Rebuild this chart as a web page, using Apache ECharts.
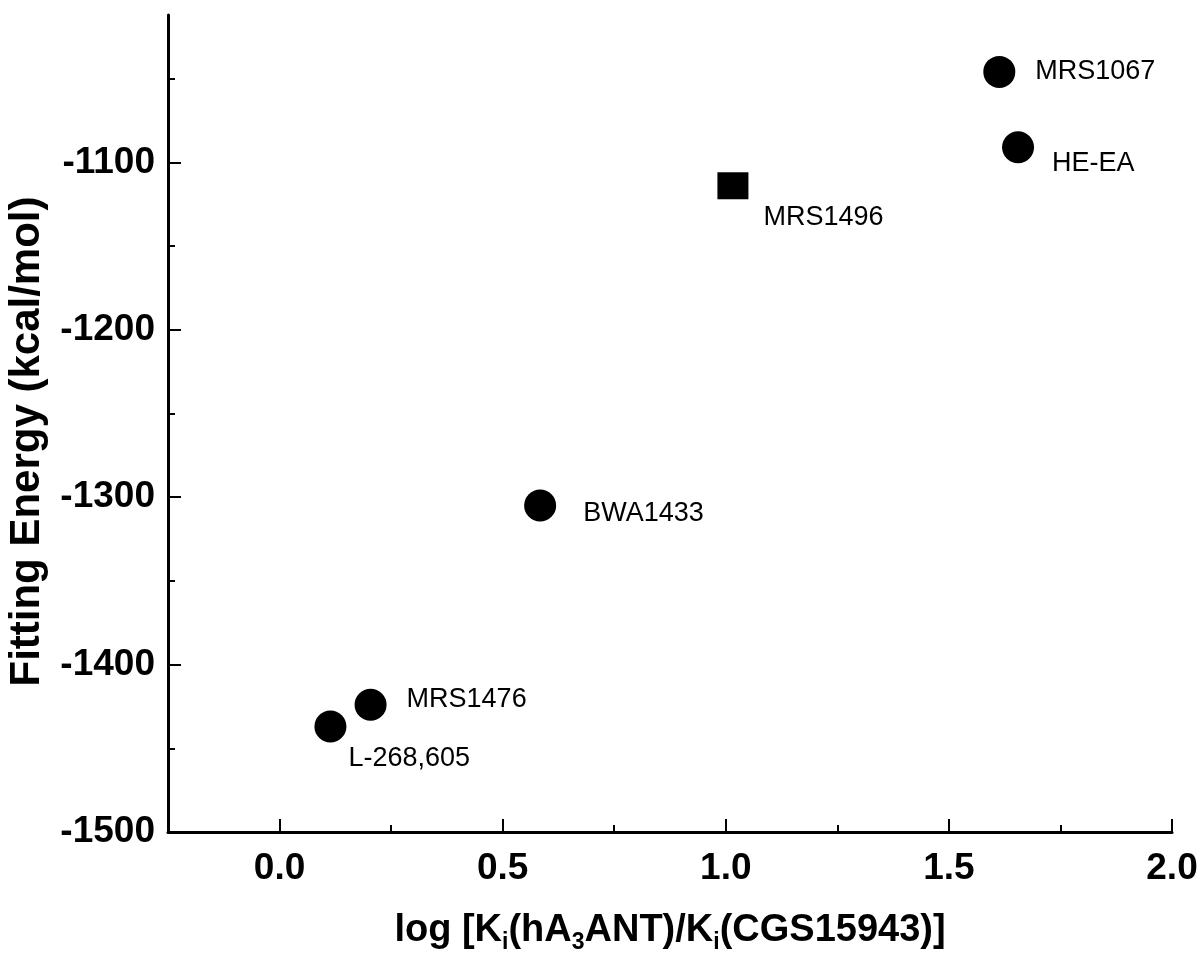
<!DOCTYPE html>
<html>
<head>
<meta charset="utf-8">
<title>Fitting energy vs log Ki ratio</title>
<script src="https://cdn.jsdelivr.net/npm/echarts@6/dist/echarts.min.js"></script>
<style>
  html, body { margin: 0; padding: 0; background: #fff; }
  #chart { width: 1200px; height: 971px; }
</style>
</head>
<body>
<div id="chart"></div>
<script>
// data
const compounds = ['MRS1067', 'HE-EA', 'MRS1496', 'BWA1433', 'MRS1476', 'L-268,605']
const logRatio = [1.613, 1.655, 1.016, 0.584, 0.204, 0.114]
const fittingEnergy = [-1046, -1091, -1114, -1305, -1424, -1437]
const squareCompounds = ['MRS1496']

const xTicks = [0, 0.5, 1.0, 1.5, 2.0]
const xMinorTicks = [0.25, 0.75, 1.25, 1.75]
const yTicks = [-1500, -1400, -1300, -1200, -1100]
const yMinorTicks = [-1450, -1350, -1250, -1150, -1050]

// label placement next to each marker (dx, dy from marker edge)
const labelOffset = {
  'MRS1067': [20, 0],
  'HE-EA': [18, 16],
  'MRS1496': [15, 32],
  'BWA1433': [27, 8],
  'MRS1476': [20, -5],
  'L-268,605': [2, 32]
}

const font = 'Liberation Sans, Arial, sans-serif'
const black = '#000'

const points = compounds.map((name, i) => {
  const isSquare = squareCompounds.includes(name)
  return {
    name: name,
    value: [logRatio[i], fittingEnergy[i]],
    symbol: isSquare ? 'rect' : 'circle',
    symbolSize: isSquare ? [31, 27] : 32,
    label: { offset: labelOffset[name] }
  }
})

const chart = echarts.init(document.getElementById('chart'))

const option = {
  animation: false,
  backgroundColor: '#fff',
  grid: {
    left: 168,
    right: 28,
    top: 15,
    bottom: 139,
    outerBoundsMode: 'none'
  },
  xAxis: [{
    type: 'value',
    min: -0.25,
    max: 2.0,
    position: 'bottom',
    name: 'log [K{sub|i}(hA{sub|3}ANT)/K{sub|i}(CGS15943)]',
    nameLocation: 'middle',
    nameGap: 75,
    nameTextStyle: {
      color: black,
      fontFamily: font,
      fontWeight: 'bold',
      fontSize: 38,
      rich: {
        sub: {
          fontFamily: font,
          fontWeight: 'bold',
          fontSize: 23,
          color: black,
          padding: [24, 0, 0, 0]
        }
      }
    },
    axisLine: { show: true, onZero: false, lineStyle: { color: black, width: 3 } },
    axisTick: { show: true, inside: true, length: 13, customValues: xTicks, lineStyle: { color: black, width: 2 } },
    axisLabel: {
      customValues: xTicks,
      margin: 18,
      color: black,
      fontFamily: font,
      fontWeight: 'bold',
      fontSize: 37,
      formatter: v => v.toFixed(1)
    },
    splitLine: { show: false }
  }, {
    type: 'value',
    min: -0.25,
    max: 2.0,
    position: 'bottom',
    axisLine: { show: false, onZero: false },
    axisTick: { show: true, inside: true, length: 7, customValues: xMinorTicks, lineStyle: { color: black, width: 2 } },
    axisLabel: { show: false },
    splitLine: { show: false }
  }],
  yAxis: [{
    type: 'value',
    min: -1500,
    max: -1012,
    position: 'left',
    name: 'Fitting Energy (kcal/mol)',
    nameLocation: 'middle',
    nameGap: 120,
    nameRotate: 90,
    nameTextStyle: {
      color: black,
      fontFamily: font,
      fontWeight: 'bold',
      fontSize: 42,
      padding: [0, 36, 0, 0]
    },
    axisLine: { show: true, onZero: false, lineStyle: { color: black, width: 3 } },
    axisTick: { show: true, inside: true, length: 13, customValues: yTicks, lineStyle: { color: black, width: 2 } },
    axisLabel: {
      customValues: yTicks,
      margin: 13,
      color: black,
      fontFamily: font,
      fontWeight: 'bold',
      fontSize: 37,
      formatter: v => String(v)
    },
    splitLine: { show: false }
  }, {
    type: 'value',
    min: -1500,
    max: -1012,
    position: 'left',
    axisLine: { show: false, onZero: false },
    axisTick: { show: true, inside: true, length: 7, customValues: yMinorTicks, lineStyle: { color: black, width: 2 } },
    axisLabel: { show: false },
    splitLine: { show: false }
  }],
  series: [{
    type: 'scatter',
    xAxisIndex: 0,
    yAxisIndex: 0,
    itemStyle: { color: black, opacity: 1 },
    label: {
      show: true,
      position: 'right',
      distance: 0,
      formatter: '{b}',
      color: black,
      fontFamily: font,
      fontSize: 27
    },
    data: points
  }]
}

chart.setOption(option)
</script>
</body>
</html>
